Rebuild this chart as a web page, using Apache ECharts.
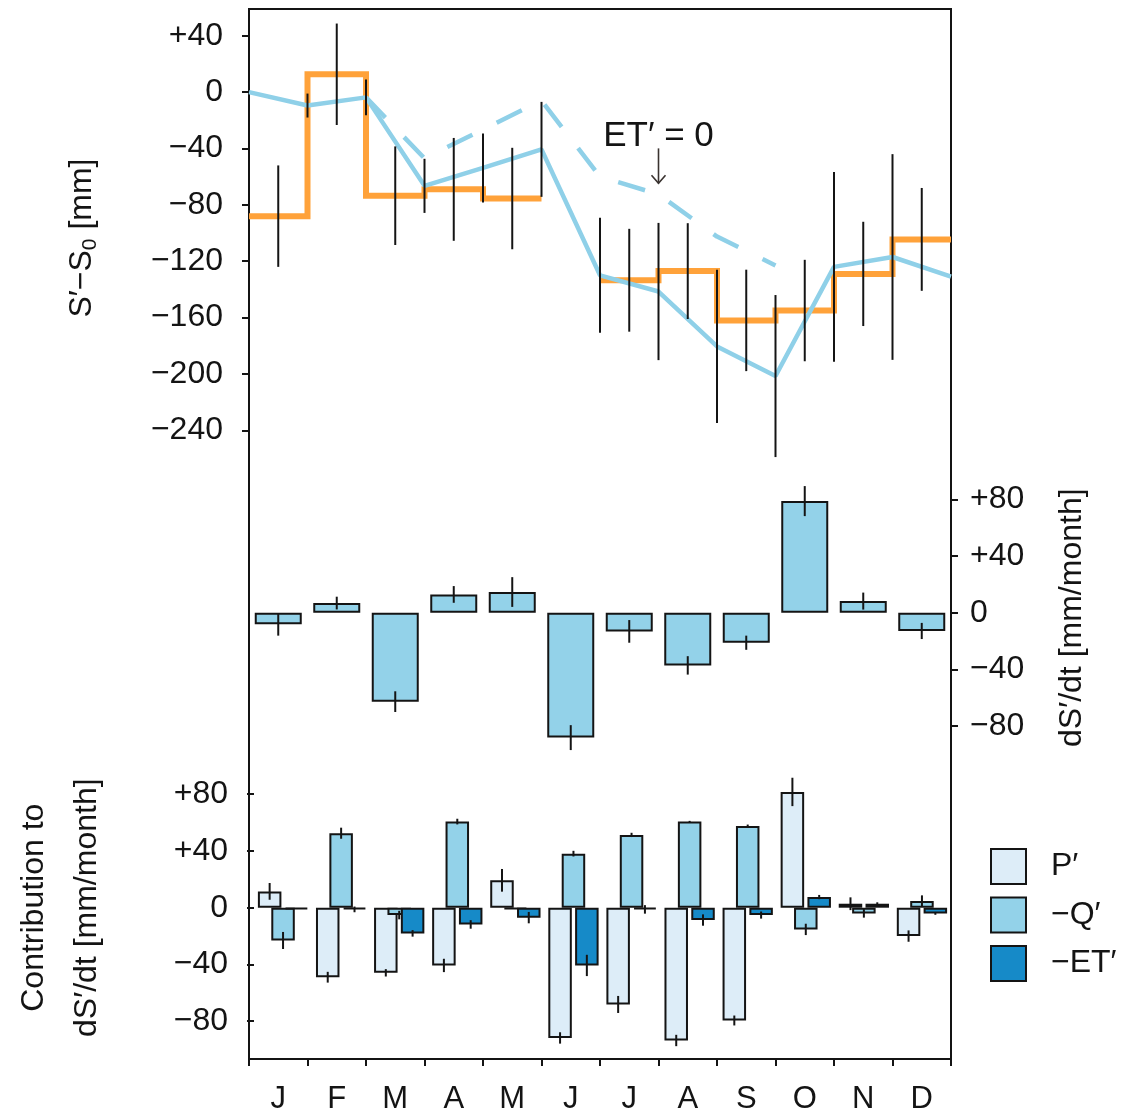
<!DOCTYPE html>
<html><head><meta charset="utf-8">
<script src="https://cdn.jsdelivr.net/npm/echarts@6/dist/echarts.min.js"></script>
<style>html,body{margin:0;padding:0;background:#fff}#c{width:1138px;height:1115px}</style>
</head><body><div id="c"></div><script>
// ---------- data ----------
const months = ['J','F','M','A','M','J','J','A','S','O','N','D'];
// top panel: S'-S0 [mm]
const storageOrange    = [-88, 12.7, -73.5, -69, -75.5, null, -133.5, -127, -162, -155, -129, -104.5]; // monthly step
const storageOrangeErr = [36, 36, 35, 36.5, 36, null, 36.5, 34, 36, 36, 37, 36.5];
const storageBlue      = [0, -9.5, -3.7, -66.5, -53.8, -40.6, -130, -141.5, -180.5, -201.5, -124, -117, -131]; // month boundaries
const storageBlueErr   = [null, 8.5, 12.7, 19.2, 24.5, 33.7, 40.8, 48.7, 54.4, 57.5, 67.3, 73, null];
const storageNoET      = [null, null, -3.7, -47, -26.5, -6, -60, -72.5, -102.5, -123, null, null, null];
// middle panel: dS'/dt [mm/month]
const dSdt    = [-8.2, 6.8, -62.8, 12.9, 14.6, -88.2, -13.2, -37.2, -21.2, 78.8, 8.2, -12.9];
const dSdtErr = [8, 4.5, 7.3, 5.9, 10.5, 8.8, 8, 6.5, 5, 10.6, 6, 5.7];
// bottom panel: contributions
const contribP     = [11.5, -49, -45.9, -40.7, 19.3, -91.8, -68.2, -93.6, -79.5, 81.6, 2.8, -20];
const contribPErr  = [5.9, 3.8, 2.6, 4.7, 8, 4, 6, 4, 3.5, 10, 4.5, 4];
const contribQ     = [-23.1, 52.5, -5.2, 60.7, -1, 38.1, 51.3, 60.7, 57.6, -15.3, -4, 4.7];
const contribQErr  = [6, 3.9, 3, 2, 0, 2, 1.5, 0.5, 1, 4, 3, 4];
const contribET    = [-1.2, -1.2, -18.1, -11.8, -7, -40.7, -1.2, -8.7, -5.2, 7.5, 2.8, -4];
const contribETErr = [0, 2, 2.3, 3, 4, 7.5, 3, 4, 2.5, 1.5, 1, 1];
const yTicksTop = [-240, 40];   // axis range, step 40
const yTicksBar = [-80, 80];
const annotation = {text: 'ET\u2032 = 0', x: 7, yText: -31.4, yArrowTop: -39.9, yArrowBottom: -64.7};

// ---------- style ----------
const FONT = '"Liberation Sans", Arial, Helvetica, sans-serif';
const C_P = '#ddedf8', C_Q = '#93d2e9', C_ET = '#168ac8';
const C_ORANGE = '#ffa23a', C_BLUE = '#8fd0e8';
const INK = '#141414';
const BW = 23.5, GAP = -0.43;

function fmt(v){ return v > 0 ? '+' + v : (v < 0 ? '\u2212' + Math.abs(v) : '0'); }

const orangeSteps = [];
storageOrange.forEach((v, i) => {
  if (v == null) orangeSteps.push([i + 0.5, null]);
  else orangeSteps.push([i, v], [i + 1, v]);
});
const topErr = [];
storageOrange.forEach((v, i) => { if (v != null && storageOrangeErr[i] != null) topErr.push([i + 0.5, v - storageOrangeErr[i], v + storageOrangeErr[i]]); });
storageBlue.forEach((v, i) => { if (storageBlueErr[i] != null) topErr.push([i, v - storageBlueErr[i], v + storageBlueErr[i]]); });

function errData(vals, errs){ return vals.map((v, i) => [i, v - errs[i], v + errs[i]]); }
function errRender(offset, width){
  return function(params, api){
    const x = api.value(0), lo = api.value(1), hi = api.value(2);
    if (hi - lo <= 0) return null;
    const a = api.coord([x, lo]), b = api.coord([x, hi]);
    return {type: 'line', shape: {x1: a[0] + offset, y1: a[1], x2: b[0] + offset, y2: b[1]},
            style: {stroke: INK, lineWidth: width}};
  };
}
const spacing = BW * (1 + GAP);

const axisLabelStyle = {fontSize: 32, color: INK, fontFamily: FONT};
const tickStyle = {show: true, length: 7, lineStyle: {color: INK, width: 2}};

const chart = echarts.init(document.getElementById('c'));
chart.setOption({
  animation: false,
  backgroundColor: '#fff',
  textStyle: {fontFamily: FONT},
  grid: [
    {left: 249, right: 187, top: 35.8, height: 394.5},
    {left: 249, right: 187, top: 499.4, height: 226.6},
    {left: 249, right: 187, top: 794.2, height: 227},
    {left: 249, right: 187, top: 9, height: 1051, show: true, borderColor: INK, borderWidth: 2, backgroundColor: 'transparent'}
  ],
  xAxis: [
    {type: 'value', gridIndex: 0, min: 0, max: 12, show: false},
    {type: 'category', gridIndex: 1, data: months, show: false},
    {type: 'category', gridIndex: 2, data: months, show: false},
    {type: 'category', gridIndex: 3, data: months, position: 'bottom',
     axisLine: {show: false}, axisTick: {show: true, length: 7, interval: 0, lineStyle: {color: INK, width: 2}},
     axisLabel: {fontSize: 31, color: INK, fontFamily: FONT, margin: 25, interval: 0}, splitLine: {show: false}}
  ],
  yAxis: [
    {type: 'value', gridIndex: 0, min: yTicksTop[0], max: yTicksTop[1], interval: 40, position: 'left',
     axisLine: {show: false}, axisTick: tickStyle, splitLine: {show: false},
     axisLabel: Object.assign({formatter: fmt, margin: 26}, axisLabelStyle),
     name: '{a|S\u2032\u2212S}{s|0}{a| [mm]}', nameLocation: 'middle', nameRotate: 90, nameGap: 148,
     nameTextStyle: {padding: [0, 10, 0, 0], rich: {a: {fontSize: 32, color: INK, fontFamily: FONT}, s: {fontSize: 21, color: INK, fontFamily: FONT, padding: [16, 0, 0, 0]}}}},
    {type: 'value', gridIndex: 1, min: yTicksBar[0], max: yTicksBar[1], interval: 40, position: 'right',
     axisLine: {show: false}, axisTick: tickStyle, splitLine: {show: false},
     axisLabel: Object.assign({formatter: fmt, margin: 19}, axisLabelStyle),
     name: 'dS\u2032/dt [mm/month]', nameLocation: 'middle', nameRotate: 90, nameGap: 105,
     nameTextStyle: {fontSize: 32, color: INK, fontFamily: FONT, padding: [0, 10, 0, 0]}},
    {type: 'value', gridIndex: 2, min: yTicksBar[0], max: yTicksBar[1], interval: 40, position: 'left',
     axisLine: {show: false}, axisTick: tickStyle, splitLine: {show: false},
     axisLabel: Object.assign({formatter: fmt, margin: 26}, axisLabelStyle),
     name: 'Contribution to\ndS\u2032/dt [mm/month]', nameLocation: 'middle', nameRotate: 90, nameGap: 140,
     nameTextStyle: {fontSize: 32, color: INK, fontFamily: FONT, lineHeight: 53}},
    {type: 'value', gridIndex: 3, min: 0, max: 1, show: false}
  ],
  legend: {
    data: ['P\u2032', '\u2212Q\u2032', '\u2212ET\u2032'], orient: 'vertical', left: 985, top: 843,
    itemWidth: 35, itemHeight: 35, itemGap: 11.5, icon: 'rect', selectedMode: false,
    itemStyle: {borderColor: INK, borderWidth: 2},
    textStyle: {fontSize: 32, color: INK, fontFamily: FONT, padding: [0, 0, 0, 20]}
  },
  series: [
    {name: 'S (step)', type: 'line', xAxisIndex: 0, yAxisIndex: 0, data: orangeSteps, showSymbol: false, symbol: 'none',
     lineStyle: {color: C_ORANGE, width: 6, cap: 'butt', join: 'miter'}, z: 2},
    {name: 'S', type: 'line', xAxisIndex: 0, yAxisIndex: 0, data: storageBlue.map((v, i) => [i, v]), symbol: 'none',
     lineStyle: {color: C_BLUE, width: 4.5}, z: 3},
    {name: 'S ET=0', type: 'line', xAxisIndex: 0, yAxisIndex: 0, data: storageNoET.map((v, i) => [i, v]), symbol: 'none',
     lineStyle: {color: C_BLUE, width: 4.5, type: [28, 27]}, z: 3},
    {name: 'S err', type: 'custom', xAxisIndex: 0, yAxisIndex: 0, data: topErr, encode: {x: 0, y: [1, 2]},
     renderItem: errRender(0, 2), z: 5},

    {name: 'dS/dt', type: 'bar', xAxisIndex: 1, yAxisIndex: 1, data: dSdt, barWidth: 47, clip: false,
     itemStyle: {color: C_Q, borderColor: INK, borderWidth: 2}, z: 2},
    {name: 'dS/dt err', type: 'custom', xAxisIndex: 1, yAxisIndex: 1, data: errData(dSdt, dSdtErr), encode: {x: 0, y: [1, 2]},
     renderItem: errRender(0, 2), z: 5},

    {name: 'P\u2032', type: 'bar', xAxisIndex: 2, yAxisIndex: 2, data: contribP, barWidth: BW, barGap: (GAP * 100) + '%', clip: false,
     itemStyle: {color: C_P, borderColor: INK, borderWidth: 2}, z: 2},
    {name: '\u2212Q\u2032', type: 'bar', xAxisIndex: 2, yAxisIndex: 2, data: contribQ, barWidth: BW, barGap: (GAP * 100) + '%', clip: false,
     itemStyle: {color: C_Q, borderColor: INK, borderWidth: 2}, z: 2},
    {name: '\u2212ET\u2032', type: 'bar', xAxisIndex: 2, yAxisIndex: 2, data: contribET, barWidth: BW, barGap: (GAP * 100) + '%', clip: false,
     itemStyle: {color: C_ET, borderColor: INK, borderWidth: 2}, z: 2},
    {name: 'P err', type: 'custom', xAxisIndex: 2, yAxisIndex: 2, data: errData(contribP, contribPErr), encode: {x: 0, y: [1, 2]},
     renderItem: errRender(-spacing, 2), z: 5},
    {name: 'Q err', type: 'custom', xAxisIndex: 2, yAxisIndex: 2, data: errData(contribQ, contribQErr), encode: {x: 0, y: [1, 2]},
     renderItem: errRender(0, 2), z: 5},
    {name: 'ET err', type: 'custom', xAxisIndex: 2, yAxisIndex: 2, data: errData(contribET, contribETErr), encode: {x: 0, y: [1, 2]},
     renderItem: errRender(spacing, 2), z: 5}
  ]
});

// annotation placed through the top panel's coordinate system
const pt = chart.convertToPixel({gridIndex: 0}, [annotation.x, annotation.yText]);
const a1 = chart.convertToPixel({gridIndex: 0}, [annotation.x, annotation.yArrowTop]);
const a2 = chart.convertToPixel({gridIndex: 0}, [annotation.x, annotation.yArrowBottom]);
chart.setOption({graphic: [
  {type: 'text', x: pt[0], y: pt[1], z: 10, style: {text: annotation.text, fontSize: 35, fill: INK, fontFamily: FONT, align: 'center', verticalAlign: 'middle'}},
  {type: 'line', z: 10, shape: {x1: a1[0], y1: a1[1], x2: a2[0], y2: a2[1]}, style: {stroke: '#3a3330', lineWidth: 1.6}},
  {type: 'polyline', z: 10, shape: {points: [[a2[0] - 7, a2[1] - 8], [a2[0], a2[1]], [a2[0] + 7, a2[1] - 8]]}, style: {stroke: '#3a3330', lineWidth: 1.6, fill: null}}
]});
</script></body></html>
